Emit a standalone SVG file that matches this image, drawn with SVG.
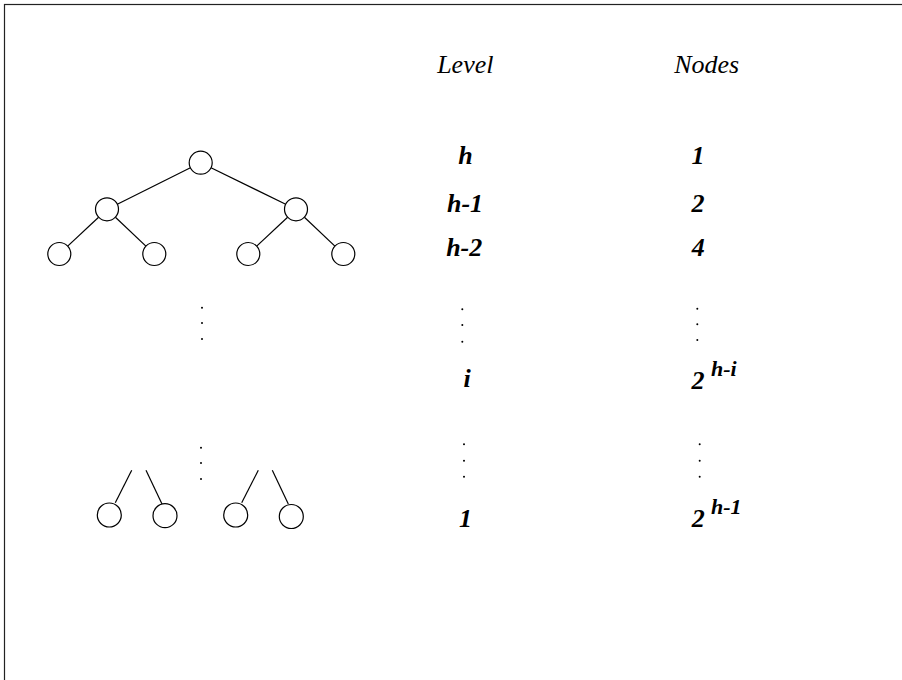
<svg xmlns="http://www.w3.org/2000/svg" width="902" height="680" viewBox="0 0 902 680">
<style>
.nd{fill:#fff;stroke:#000;stroke-width:1.2}
.ed{stroke:#000;stroke-width:1.2;fill:none}
.hd{font-family:"Liberation Serif",serif;font-style:italic;font-size:26px;fill:#000}
.bi{font-family:"Liberation Serif",serif;font-style:italic;font-weight:bold;font-size:26px;fill:#000}
.sup{font-family:"Liberation Serif",serif;font-style:italic;font-weight:bold;font-size:22px;fill:#000}
.dot{fill:#000}
</style>
<rect x="4.5" y="4.5" width="1000" height="1000" fill="#fff" stroke="#222" stroke-width="1.2"/>
<g id="connectors">
<line class="ed" x1="190.4" y1="167.8" x2="117.3" y2="204.2"/>
<line class="ed" x1="211" y1="167.7" x2="285.7" y2="204.3"/>
<line class="ed" x1="98.6" y1="217.2" x2="67.7" y2="246.1"/>
<line class="ed" x1="115.4" y1="217.2" x2="145.9" y2="246.1"/>
<line class="ed" x1="287.6" y1="217.2" x2="256.7" y2="246.1"/>
<line class="ed" x1="304.4" y1="217.2" x2="334.9" y2="246.1"/>
<line class="ed" x1="131.7" y1="470.3" x2="115.3" y2="502.7"/>
<line class="ed" x1="146" y1="470.3" x2="162" y2="504"/>
<line class="ed" x1="258.3" y1="470.3" x2="241.7" y2="502.7"/>
<line class="ed" x1="272.3" y1="470.3" x2="288.3" y2="504"/>
</g>
<g id="n-root"><circle class="nd" cx="200.7" cy="162.7" r="11.5"/></g>
<g id="n-l"><circle class="nd" cx="107" cy="209.3" r="11.5"/></g>
<g id="n-r"><circle class="nd" cx="296" cy="209.3" r="11.5"/></g>
<g id="n-ll"><circle class="nd" cx="59.3" cy="254" r="11.5"/></g>
<g id="n-lr"><circle class="nd" cx="154.3" cy="254" r="11.5"/></g>
<g id="n-rl"><circle class="nd" cx="248.3" cy="254" r="11.5"/></g>
<g id="n-rr"><circle class="nd" cx="343.3" cy="254" r="11.5"/></g>
<g id="n-b1"><circle class="nd" cx="109.3" cy="515" r="12"/></g>
<g id="n-b2"><circle class="nd" cx="165" cy="515.7" r="12"/></g>
<g id="n-b3"><circle class="nd" cx="235.7" cy="515" r="12"/></g>
<g id="n-b4"><circle class="nd" cx="291.3" cy="516.5" r="12"/></g>
<g id="dots">
<circle class="dot" cx="202" cy="307.7" r="1"/>
<circle class="dot" cx="202" cy="323" r="1"/>
<circle class="dot" cx="202" cy="339" r="1"/>
<circle class="dot" cx="201" cy="447.7" r="1"/>
<circle class="dot" cx="201" cy="463" r="1"/>
<circle class="dot" cx="201" cy="479" r="1"/>
<circle class="dot" cx="462.3" cy="309.3" r="1"/>
<circle class="dot" cx="462.3" cy="325" r="1"/>
<circle class="dot" cx="462.3" cy="341.7" r="1"/>
<circle class="dot" cx="697.3" cy="308.7" r="1"/>
<circle class="dot" cx="697.3" cy="324.3" r="1"/>
<circle class="dot" cx="697.3" cy="340" r="1"/>
<circle class="dot" cx="464" cy="444.3" r="1"/>
<circle class="dot" cx="464" cy="460.7" r="1"/>
<circle class="dot" cx="464" cy="476.7" r="1"/>
<circle class="dot" cx="699.7" cy="444.3" r="1"/>
<circle class="dot" cx="699.7" cy="460.7" r="1"/>
<circle class="dot" cx="699.7" cy="476.7" r="1"/>
</g>
<g id="labels" text-anchor="middle">
<text class="hd" x="465.3" y="73.3">Level</text>
<text class="hd" x="706.7" y="73.3">Nodes</text>
<text class="bi" x="465.5" y="164.3">h</text>
<text class="bi" x="698" y="164.3">1</text>
<text class="bi" x="465" y="211.7">h-1</text>
<text class="bi" x="698" y="211.7">2</text>
<text class="bi" x="464.2" y="255.7">h-2</text>
<text class="bi" x="698.3" y="255.7">4</text>
<text class="bi" x="467" y="387.3">i</text>
<text class="bi" x="698" y="389">2</text>
<text class="sup" x="711" y="376" text-anchor="start">h-i</text>
<text class="bi" x="465.5" y="527.3">1</text>
<text class="bi" x="698.3" y="527.3">2</text>
<text class="sup" x="711" y="514.3" text-anchor="start">h-1</text>
</g>
</svg>
